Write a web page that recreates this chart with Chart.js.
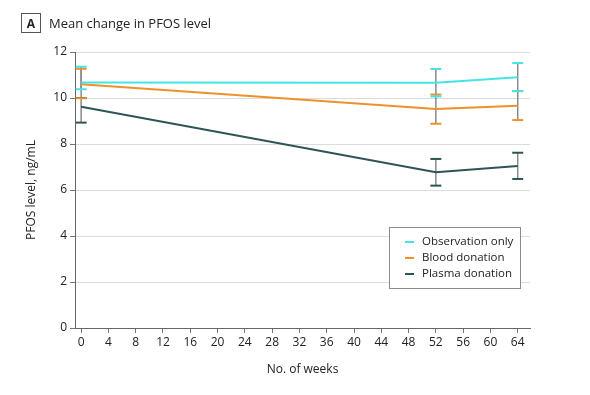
<!DOCTYPE html>
<html>
<head>
<meta charset="utf-8">
<script src="https://cdn.jsdelivr.net/npm/chart.js@4.4.1/dist/chart.umd.min.js"></script>
<style>
  html, body { margin: 0; padding: 0; background: #fff; }
  #wrap { position: relative; width: 590px; height: 395px; }
  #title { position: absolute; left: 21px; top: 13px; height: 20px; display: flex; align-items: center; font-family: "Open Sans", sans-serif; font-size: 13px; color: #222; }
  #title .badge { box-sizing: border-box; width: 20px; height: 20px; border: 1px solid #555; display: flex; align-items: center; justify-content: center; font-weight: bold; font-size: 12px; margin-right: 8px; }
</style>
</head>
<body>
<div id="wrap">
  <canvas id="c" width="590" height="395"></canvas>
  <div id="title"><span class="badge">A</span><span>Mean change in PFOS level</span></div>
</div>
<script>
// ---- data ----
const weeks = [0, 52, 64];
const xTicks = [0, 4, 8, 12, 16, 20, 24, 28, 32, 36, 40, 44, 48, 52, 56, 60, 64];
const yTicks = [0, 2, 4, 6, 8, 10, 12];
const seriesNames = ["Observation only", "Blood donation", "Plasma donation"];
const seriesColors = ["#44E4E8", "#F0902A", "#2D5553"];
const obsMean = [10.67, 10.66, 10.90];
const obsLow = [10.38, 10.07, 10.30];
const obsHigh = [11.36, 11.26, 11.52];
const bloodMean = [10.60, 9.52, 9.66];
const bloodLow = [9.99, 8.88, 9.04];
const bloodHigh = [11.27, 10.15, 10.30];
const plasmaMean = [9.62, 6.77, 7.04];
const plasmaLow = [8.93, 6.19, 6.48];
const plasmaHigh = [10.00, 7.35, 7.62];

const means = [obsMean, bloodMean, plasmaMean];
const lows = [obsLow, bloodLow, plasmaLow];
const highs = [obsHigh, bloodHigh, plasmaHigh];

const FONT = "'Open Sans', sans-serif";

const datasets = seriesNames.map((name, i) => ({
  label: name,
  data: weeks.map((w, j) => ({ x: w, y: means[i][j] })),
  borderColor: seriesColors[i],
  backgroundColor: seriesColors[i],
  borderWidth: 2,
  pointRadius: 0,
  tension: 0,
  fill: false,
  order: i
}));

const errorBars = {
  id: 'errorBars',
  beforeDatasetsDraw(chart) {
    const { ctx, scales: { x, y } } = chart;
    ctx.save();
    // vertical whiskers
    ctx.strokeStyle = '#8a8a8a';
    ctx.lineWidth = 1.5;
    for (let i = 0; i < seriesNames.length; i++) {
      weeks.forEach((w, j) => {
        const px = x.getPixelForValue(w);
        ctx.beginPath();
        ctx.moveTo(px, y.getPixelForValue(lows[i][j]));
        ctx.lineTo(px, y.getPixelForValue(highs[i][j]));
        ctx.stroke();
      });
    }
    // caps
    ctx.lineWidth = 2;
    for (let i = seriesNames.length - 1; i >= 0; i--) {
      ctx.strokeStyle = seriesColors[i];
      weeks.forEach((w, j) => {
        const px = x.getPixelForValue(w);
        [lows[i][j], highs[i][j]].forEach(v => {
          const py = y.getPixelForValue(v);
          ctx.beginPath();
          ctx.moveTo(px - 5.5, py);
          ctx.lineTo(px + 5.5, py);
          ctx.stroke();
        });
      });
    }
    ctx.restore();
  }
};

const boxLegend = {
  id: 'boxLegend',
  afterDraw(chart) {
    const { ctx, chartArea } = chart;
    const left = chartArea.left + 314, top = chartArea.top + 175, w = 131, h = 61;
    ctx.save();
    ctx.fillStyle = '#fff';
    ctx.fillRect(left, top, w, h);
    ctx.strokeStyle = '#8c8c8c';
    ctx.lineWidth = 1;
    ctx.strokeRect(left + 0.5, top + 0.5, w, h);
    ctx.font = "11.5px " + FONT;
    ctx.textBaseline = 'middle';
    seriesNames.forEach((name, i) => {
      const yy = top + 15 + i * 16;
      ctx.strokeStyle = seriesColors[i];
      ctx.lineWidth = 2;
      ctx.beginPath();
      ctx.moveTo(left + 16, yy);
      ctx.lineTo(left + 25, yy);
      ctx.stroke();
      ctx.fillStyle = '#222';
      ctx.fillText(name, left + 33, yy);
    });
    ctx.restore();
  }
};

new Chart(document.getElementById('c'), {
  type: 'line',
  data: { datasets },
  options: {
    responsive: false,
    animation: false,
    layout: { padding: { left: 0, right: 60, top: 52, bottom: 0 } },
    plugins: { legend: { display: false }, tooltip: { enabled: false } },
    scales: {
      x: {
        type: 'linear',
        min: -0.9,
        max: 65.8,
        afterBuildTicks: s => { s.ticks = xTicks.map(v => ({ value: v })); },
        afterFit: s => { s.height = 67; },
        grid: { drawOnChartArea: false, drawTicks: true, tickLength: 5, tickColor: '#777' },
        border: { color: '#666', width: 1 },
        ticks: { font: { family: FONT, size: 12 }, color: '#222', padding: 2, maxRotation: 0, autoSkip: false },
        title: { display: true, text: 'No. of weeks', font: { family: FONT, size: 12 }, color: '#222', padding: { top: 0, bottom: 18 } }
      },
      y: {
        type: 'linear',
        min: 0,
        max: 12,
        afterBuildTicks: s => { s.ticks = yTicks.map(v => ({ value: v })); },
        afterFit: s => { s.width = 75; },
        grid: { color: '#dcdcdc', lineWidth: 1, drawTicks: true, tickLength: 5, tickColor: '#777' },
        border: { color: '#666', width: 1 },
        ticks: { font: { family: FONT, size: 12 }, color: '#222', padding: 3 },
        title: { display: true, text: 'PFOS level, ng/mL', font: { family: FONT, size: 12 }, color: '#222', padding: { top: 24, bottom: 0 } }
      }
    }
  },
  plugins: [errorBars, boxLegend]
});
</script>
</body>
</html>
